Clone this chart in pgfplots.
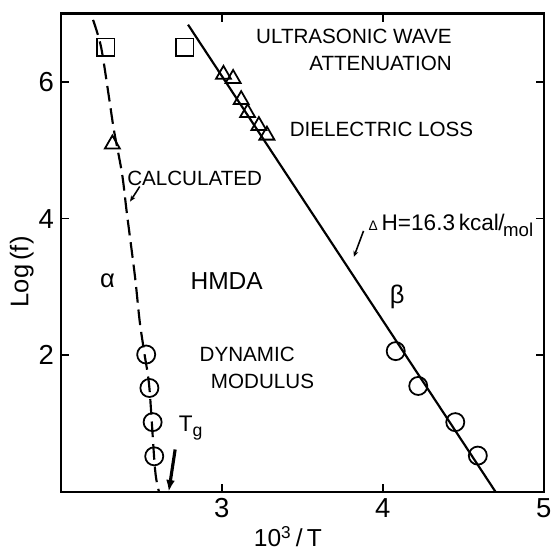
\documentclass[border=0pt]{standalone}
\usepackage{pgfplots}
\pgfplotsset{compat=1.18}
\usepackage{fontspec}
\setmainfont{Liberation Sans}
\usetikzlibrary{arrows.meta}
\begin{document}
\begin{tikzpicture}
\begin{axis}[name=ax, scale only axis, width=246pt, height=243.5pt,
  xmin=2, xmax=5, ymin=0, ymax=7,
  xtick={3,4,5}, ytick={2,4,6},
  axis line style={line width=1.3pt},
  tick style={line width=0.8pt, black}, major tick length=4pt,
  ticklabel style={font=\fontsize{14}{14}\selectfont},
  /pgf/number format/assume math mode=true,
  xlabel={10\textsuperscript{3}\,/\,T},
  ylabel={Log\,(f)},
  xlabel style={font=\fontsize{12.5}{12.5}\selectfont, at={(axis description cs:0.47,-0.094)}, anchor=center},
  ylabel style={font=\fontsize{13}{13}\selectfont, at={(axis description cs:-0.081,0.46)}, anchor=center},
  clip=false]
% alpha (calculated, dashed)
\addplot[black, line width=1.1pt, dash pattern=on 8pt off 3.5pt, smooth, tension=0.5] coordinates {
 (2.20,6.91) (2.25,6.51) (2.30,5.76) (2.33,5.29) (2.38,4.66) (2.41,4.08)
 (2.46,3.16) (2.49,2.49) (2.52,2.01) (2.55,1.52) (2.585,0.33) (2.61,0)};
% beta line
\addplot[black, line width=1.1pt] coordinates {(2.79,6.84) (4.70,0)};
% squares
\addplot[only marks, mark=square, mark size=4.4pt, mark options={fill=white, line width=0.9pt, black}] coordinates {(2.28,6.51) (2.77,6.51)};
% triangles
\addplot[only marks, mark=triangle, mark size=4.4pt, mark options={fill=white, line width=0.9pt, black}] coordinates {
 (3.01,6.11) (3.07,6.05) (3.12,5.74) (3.16,5.55) (3.23,5.36) (3.28,5.22) (2.32,5.09)};
% circles alpha
\addplot[only marks, mark=o, mark size=4.6pt, mark options={fill=white, line width=0.9pt, black}] coordinates {
 (2.53,2.01) (2.55,1.52) (2.57,1.02) (2.58,0.52)};
% circles beta
\addplot[only marks, mark=o, mark size=4.6pt, mark options={fill=white, line width=0.9pt, black}] coordinates {
 (4.08,2.06) (4.22,1.55) (4.45,1.02) (4.59,0.53)};
% labels
\node[anchor=east, font=\fontsize{10.5}{10.5}\selectfont, inner sep=0pt] at (axis cs:4.43,6.67) {ULTRASONIC WAVE};
\node[anchor=east, font=\fontsize{10.5}{10.5}\selectfont, inner sep=0pt] at (axis cs:4.43,6.27) {ATTENUATION};
\node[anchor=west, font=\fontsize{10.5}{10.5}\selectfont, inner sep=0pt] at (axis cs:3.42,5.30) {DIELECTRIC LOSS};
\node[anchor=west, font=\fontsize{10.5}{10.5}\selectfont, inner sep=0pt] at (axis cs:2.41,4.59) {CALCULATED};
\draw[-{Stealth[length=3pt,width=2.5pt]}, line width=0.8pt] (axis cs:2.49,4.47) -- (axis cs:2.43,4.25);
\node[font=\fontsize{13}{13}\selectfont, inner sep=0pt] at (axis cs:2.29,3.09) {α};
\node[font=\fontsize{12.5}{12.5}\selectfont, inner sep=0pt] at (axis cs:3.03,3.09) {HMDA};
\node[font=\fontsize{13}{13}\selectfont, inner sep=0pt] at (axis cs:4.09,2.85) {β};
\node[anchor=west, font=\fontsize{10.5}{10.5}\selectfont, inner sep=0pt] at (axis cs:2.86,2.01) {DYNAMIC};
\node[anchor=west, font=\fontsize{10.5}{10.5}\selectfont, inner sep=0pt] at (axis cs:2.93,1.62) {MODULUS};
\node[anchor=west, font=\fontsize{11.5}{11.5}\selectfont, inner sep=0pt] at (axis cs:2.73,0.93) {T\raisebox{-2.5pt}{\fontsize{9}{9}\selectfont g}};
\draw[-{Latex[length=6pt,width=4.5pt]}, line width=1.6pt] (axis cs:2.71,0.62) -- (axis cs:2.67,0);
\node[anchor=west, font=\fontsize{11.5}{11.5}\selectfont, inner sep=0pt] at (axis cs:3.91,3.90)
  {{\fontsize{7}{7}\selectfont Δ}\,H=16.3\,kcal\kern-0.3pt/\kern-0.8pt\raisebox{-3pt}{\fontsize{9.5}{9.5}\selectfont mol}};
\draw[-{Stealth[length=3pt,width=2.5pt]}, line width=0.8pt] (axis cs:3.88,3.82) -- (axis cs:3.82,3.44);
\end{axis}
\path ([xshift=-31pt,yshift=-28.5pt]ax.south west) rectangle ([xshift=2pt,yshift=7pt]ax.north east);
\end{tikzpicture}
\end{document}
